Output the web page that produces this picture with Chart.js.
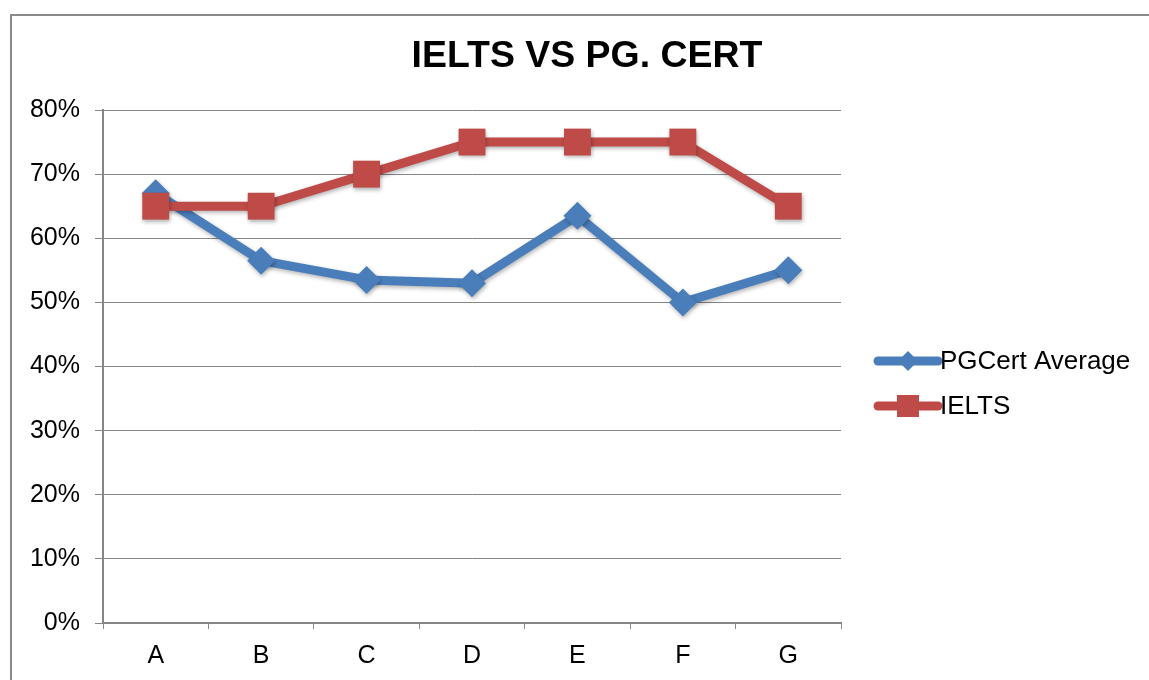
<!DOCTYPE html>
<html>
<head>
<meta charset="utf-8">
<script src="https://cdn.jsdelivr.net/npm/chart.js@4"></script>
<style>
  body { margin: 0; background: #fff; }
  #wrap { position: relative; width: 1149px; height: 680px; overflow: hidden; }
  #frame { position: absolute; left: 10px; top: 14px; width: 1160px; height: 700px; border: 2px solid #8a8a8a; box-sizing: border-box; }
  canvas { position: absolute; left: 0; top: 0; }
</style>
</head>
<body>
<div id="wrap">
  <div id="frame"></div>
  <canvas id="myChart" width="1149" height="680"></canvas>
</div>
<script>
const labels = ['A', 'B', 'C', 'D', 'E', 'F', 'G'];
const pgcert = [67, 56.5, 53.5, 53, 63.5, 50, 55];
const ielts = [65, 65, 70, 75, 75, 75, 65];
const yTicks = [0, 10, 20, 30, 40, 50, 60, 70, 80];
const titleText = 'IELTS VS PG. CERT';

const blue = '#4a7ebb';
const red = '#be4b48';
const FONT = '"Liberation Sans", Arial, sans-serif';

// shadow under the lines and markers
const shadow = {
    id: 'shadow',
    beforeDatasetDraw(chart) {
        const c = chart.ctx;
        c.save();
        c.shadowColor = 'rgba(0,0,0,0.3)';
        c.shadowBlur = 4;
        c.shadowOffsetX = 1;
        c.shadowOffsetY = 2;
    },
    afterDatasetDraw(chart) {
        chart.ctx.restore();
    }
};

// title and legend drawn like the original
const extras = {
    id: 'extras',
    afterDraw(chart) {
        const c = chart.ctx;
        const area = chart.chartArea;
        c.save();
        c.fillStyle = '#000';
        c.font = 'bold 36px ' + FONT;
        c.textAlign = 'center';
        c.textBaseline = 'alphabetic';
        // original text is a little wider than Liberation Sans
        c.save();
        c.translate(587, 67);
        c.scale(1.04, 1);
        c.fillText(titleText, 0, 0);
        c.restore();

        const items = [
            { text: 'PGCert Average', color: blue, style: 'diamond' },
            { text: 'IELTS', color: red, style: 'square' }
        ];
        items.forEach((it, i) => {
            const y = 361 + i * 45;
            const x0 = area.right + 37, x1 = area.right + 97;
            c.strokeStyle = it.color;
            c.lineWidth = 9;
            c.lineCap = 'round';
            c.beginPath();
            c.moveTo(x0, y);
            c.lineTo(x1, y);
            c.stroke();
            c.fillStyle = it.color;
            const mx = (x0 + x1) / 2;
            c.beginPath();
            if (it.style === 'diamond') {
                c.moveTo(mx - 10, y); c.lineTo(mx, y - 10); c.lineTo(mx + 10, y); c.lineTo(mx, y + 10);
            } else {
                c.rect(mx - 11, y - 11, 22, 22);
            }
            c.fill();
            c.fillStyle = '#000';
            c.font = '26px ' + FONT;
            c.textAlign = 'left';
            c.textBaseline = 'middle';
            c.fillText(it.text, x1 + 2, y + 1);
        });
        c.restore();
    }
};

const ctx = document.getElementById('myChart').getContext('2d');
const myChart = new Chart(ctx, {
    type: 'line',
    data: {
        labels: labels,
        datasets: [{
            label: 'PGCert Average',
            data: pgcert,
            borderColor: blue,
            backgroundColor: blue,
            borderWidth: 9,
            pointStyle: 'rectRot',
            pointRadius: 14,
            pointHoverRadius: 14,
            pointBorderWidth: 0,
            borderJoinStyle: 'round',
            order: 2
        }, {
            label: 'IELTS',
            data: ielts,
            borderColor: red,
            backgroundColor: red,
            borderWidth: 9,
            pointStyle: 'rect',
            pointRadius: 19,
            pointHoverRadius: 19,
            pointBorderWidth: 0,
            borderJoinStyle: 'round',
            order: 1
        }]
    },
    options: {
        responsive: false,
        animation: false,
        layout: { padding: { left: 0, top: 110, right: 308, bottom: 0 } },
        plugins: {
            legend: { display: false },
            title: { display: false },
            tooltip: { enabled: false }
        },
        scales: {
            x: {
                offset: true,
                grid: {
                    offset: true,
                    drawOnChartArea: false,
                    color: '#868686',
                    tickLength: 6,
                    tickColor: '#868686'
                },
                border: { color: '#868686', width: 2 },
                ticks: { color: '#000', font: { family: FONT, size: 25 }, padding: 12 },
                afterFit(scale) { scale.height = 57; }
            },
            y: {
                min: 0,
                max: 80,
                afterBuildTicks(scale) { scale.ticks = yTicks.map(v => ({ value: v })); },
                grid: {
                    color: '#868686',
                    lineWidth: 1,
                    tickLength: 8,
                    tickColor: '#868686'
                },
                border: { color: '#868686', width: 2 },
                ticks: {
                    color: '#000',
                    font: { family: FONT, size: 25 },
                    padding: 15,
                    callback: v => v + '%'
                },
                afterFit(scale) { scale.width = 103; }
            }
        }
    },
    plugins: [shadow, extras]
});
</script>
</body>
</html>
